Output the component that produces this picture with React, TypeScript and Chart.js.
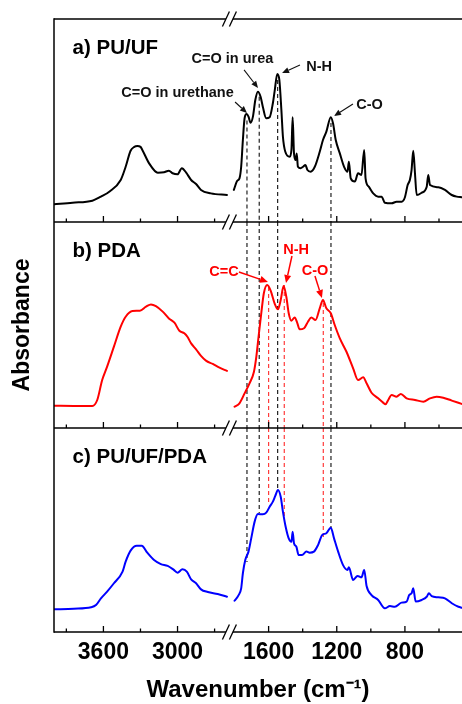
import React, { useEffect, useRef } from 'react';
import { Chart, registerables, LinearScale } from 'chart.js';

// ---------------- data ----------------
// broken wavenumber axis: two ranges (high -> low) and their relative stretch
const X_SEGMENTS = [
  { max: 4000, min: 2580, stretch: 0.725 },
  { max: 1830, min: 465, stretch: 1 },
];
const X_TICKS = [3900, 3600, 3300, 3000, 2700, 1600, 1400, 1200, 1000, 800, 600];
const X_LABELED = [3600, 3000, 1600, 1200, 800];

const PANEL_AXES = ['ya', 'yb', 'yc'];
const PANEL_LABELS = ['a) PU/UF', 'b) PDA', 'c) PU/UF/PDA'];
const PANEL_LABEL_AT = [3850, 0.83];
const SERIES_COLORS = ['#000000', '#ff0000', '#0000ff'];

// a) PU/UF  [wavenumber, absorbance (a.u.)]
const PUUF_HIGH = [
  [4000, 0.088], [3850, 0.095], [3690, 0.105], [3620, 0.125], [3550, 0.15], [3460, 0.207],
  [3420, 0.272], [3380, 0.351], [3350, 0.37], [3325, 0.374], [3300, 0.37], [3285, 0.355],
  [3230, 0.289], [3160, 0.243], [3110, 0.245], [3070, 0.253], [3040, 0.24], [3000, 0.235],
  [2965, 0.265], [2930, 0.243], [2890, 0.207], [2850, 0.187], [2810, 0.158], [2730, 0.141],
  [2600, 0.133],
];
const PUUF_LOW = [
  [1804, 0.158], [1784, 0.203], [1771, 0.215], [1761, 0.272], [1751, 0.404], [1741, 0.511],
  [1729, 0.532], [1718, 0.519], [1706, 0.489], [1692, 0.519], [1678, 0.601], [1663, 0.642],
  [1647, 0.617], [1634, 0.568], [1614, 0.511], [1594, 0.516], [1575, 0.585], [1565, 0.642],
  [1549, 0.729], [1537, 0.7], [1525, 0.552], [1516, 0.42], [1502, 0.346], [1476, 0.322],
  [1466, 0.355], [1459, 0.516], [1451, 0.338], [1441, 0.305], [1435, 0.338], [1428, 0.272],
  [1412, 0.265], [1398, 0.272], [1384, 0.281], [1372, 0.256], [1353, 0.248], [1329, 0.272],
  [1300, 0.346], [1281, 0.404], [1261, 0.445], [1235, 0.516], [1222, 0.486], [1206, 0.404],
  [1182, 0.338], [1157, 0.272], [1137, 0.248], [1129, 0.297], [1118, 0.215], [1094, 0.199],
  [1075, 0.24], [1055, 0.232], [1039, 0.355], [1031, 0.215], [1012, 0.174], [986, 0.141],
  [957, 0.125], [937, 0.125], [918, 0.095], [878, 0.092], [849, 0.1], [819, 0.1],
  [800, 0.122], [784, 0.182], [771, 0.207], [761, 0.256], [751, 0.351], [741, 0.24],
  [731, 0.133], [702, 0.144], [672, 0.174], [663, 0.232], [653, 0.182], [604, 0.171],
  [565, 0.158], [525, 0.133], [496, 0.125], [467, 0.122],
];

// b) PDA
const PDA_HIGH = [
  [4000, 0.108], [3840, 0.107], [3690, 0.107], [3650, 0.136], [3610, 0.233], [3570, 0.298],
  [3515, 0.395], [3460, 0.492], [3420, 0.54], [3365, 0.568], [3305, 0.569], [3255, 0.589],
  [3215, 0.6], [3175, 0.592], [3120, 0.565], [3070, 0.532], [3025, 0.511], [2985, 0.472],
  [2945, 0.46], [2920, 0.443], [2890, 0.411], [2850, 0.382], [2810, 0.35], [2770, 0.327],
  [2715, 0.311], [2660, 0.293], [2600, 0.277],
];
const PDA_LOW = [
  [1800, 0.103], [1771, 0.12], [1741, 0.168], [1712, 0.217], [1686, 0.273], [1672, 0.346],
  [1659, 0.443], [1643, 0.557], [1628, 0.654], [1608, 0.694], [1588, 0.667], [1565, 0.605],
  [1545, 0.576], [1529, 0.621], [1512, 0.689], [1496, 0.637], [1482, 0.557], [1466, 0.521],
  [1447, 0.537], [1431, 0.508], [1418, 0.479], [1392, 0.484], [1369, 0.516], [1349, 0.537],
  [1325, 0.524], [1300, 0.581], [1281, 0.621], [1261, 0.581], [1235, 0.557], [1212, 0.5],
  [1182, 0.435], [1143, 0.37], [1104, 0.29], [1075, 0.233], [1045, 0.246], [1025, 0.217],
  [996, 0.171], [957, 0.144], [928, 0.123], [914, 0.115], [898, 0.136], [878, 0.16],
  [849, 0.152], [824, 0.165], [790, 0.144], [741, 0.136], [692, 0.128], [653, 0.144],
  [614, 0.152], [575, 0.147], [525, 0.133], [467, 0.117],
];

// c) PU/UF/PDA
const MIX_HIGH = [
  [4000, 0.111], [3840, 0.114], [3700, 0.121], [3660, 0.132], [3620, 0.165], [3570, 0.198],
  [3515, 0.239], [3445, 0.296], [3420, 0.345], [3380, 0.399], [3330, 0.423], [3290, 0.423],
  [3245, 0.389], [3190, 0.353], [3135, 0.333], [3080, 0.324], [3035, 0.307], [3000, 0.291],
  [2960, 0.307], [2925, 0.296], [2890, 0.258], [2850, 0.239], [2810, 0.209], [2755, 0.196],
  [2675, 0.186], [2600, 0.173],
];
const MIX_LOW = [
  [1800, 0.153], [1776, 0.181], [1761, 0.214], [1751, 0.288], [1737, 0.353], [1718, 0.394],
  [1702, 0.459], [1682, 0.541], [1663, 0.578], [1634, 0.577], [1614, 0.585], [1594, 0.614],
  [1575, 0.639], [1561, 0.667], [1545, 0.696], [1529, 0.663], [1516, 0.59], [1500, 0.516],
  [1482, 0.459], [1466, 0.442], [1459, 0.492], [1451, 0.435], [1437, 0.418], [1424, 0.377],
  [1404, 0.377], [1378, 0.394], [1359, 0.389], [1334, 0.394], [1310, 0.426], [1286, 0.475],
  [1261, 0.484], [1235, 0.511], [1216, 0.459], [1192, 0.394], [1163, 0.328], [1137, 0.304],
  [1129, 0.317], [1104, 0.255], [1078, 0.275], [1055, 0.268], [1039, 0.304], [1025, 0.225],
  [996, 0.181], [957, 0.157], [918, 0.116], [888, 0.127], [859, 0.124], [820, 0.144],
  [790, 0.149], [775, 0.181], [761, 0.19], [751, 0.214], [737, 0.149], [702, 0.157],
  [672, 0.173], [659, 0.19], [643, 0.176], [604, 0.17], [565, 0.165], [525, 0.141],
  [486, 0.124], [465, 0.119],
];

// marker lines (wavenumbers) and where they start / end in each panel
const BLACK_MARKS = [1727, 1655, 1547, 1234];
const BLACK_START_A = [0.5, 0.617, 0.7, 0.488];
const BLACK_END_C = [0.343, 0.583, 0.696, 0.51];
const RED_MARKS = [1600, 1508, 1279];
const RED_START_B = [0.684, 0.694, 0.607];
const RED_END_C = [0.632, 0.564, 0.466];

// peak annotations: text, panel, text anchor, arrow tail, arrow head (data coords)
const NOTE_TEXT = ['C=O in urethane', 'C=O in urea', 'N-H', 'C-O', 'C=C', 'N-H', 'C-O'];
const NOTE_PANEL = [0, 0, 0, 0, 1, 1, 1];
const NOTE_AT = [[3000, 0.616], [1812, 0.783], [1304, 0.745], [1008, 0.557], [2624, 0.738], [1439, 0.845], [1328, 0.743]];
const NOTE_FROM = [[1797, 0.591], [1744, 0.749], [1416, 0.773], [1105, 0.581], [1774, 0.757], [1463, 0.835], [1328, 0.738]];
const NOTE_TO = [[1727, 0.537], [1662, 0.66], [1521, 0.734], [1216, 0.522], [1604, 0.709], [1498, 0.704], [1287, 0.631]];

// ---------------- scale ----------------
const FONT = '"Liberation Sans", Arial, Helvetica, sans-serif';

class BrokenLinearScale extends LinearScale {
  static id = 'brokenLinear';
  static defaults = LinearScale.defaults;

  _total() {
    return X_SEGMENTS.reduce((t, s) => t + (s.max - s.min) * s.stretch, 0);
  }
  getPixelForValue(value: any) {
    if (value === null || value === undefined || isNaN(value)) return NaN;
    const total = this._total();
    let acc = 0;
    for (let i = 0; i < X_SEGMENTS.length; i++) {
      const s = X_SEGMENTS[i];
      if (value >= s.min || i === X_SEGMENTS.length - 1) {
        const v = Math.min(Math.max(value, s.min), s.max);
        return this.left + ((acc + (s.max - v) * s.stretch) / total) * this.width;
      }
      acc += (s.max - s.min) * s.stretch;
    }
    return NaN;
  }
  getValueForPixel(pixel: number) {
    const total = this._total();
    let pos = ((pixel - this.left) / this.width) * total;
    for (const s of X_SEGMENTS) {
      const len = (s.max - s.min) * s.stretch;
      if (pos <= len) return s.max - pos / s.stretch;
      pos -= len;
    }
    return X_SEGMENTS[X_SEGMENTS.length - 1].min;
  }
}

Chart.register(...registerables, BrokenLinearScale);

// ---------------- datasets ----------------
const curve = (pts: number[][], color: string, axis: string) => ({
  type: 'line',
  data: pts.map(([x, y]) => ({ x, y })),
  borderColor: color,
  borderWidth: 2,
  pointRadius: 0,
  fill: false,
  yAxisID: axis,
  cubicInterpolationMode: 'monotone',
  borderJoinStyle: 'round',
  borderCapStyle: 'round',
});

const dashLine = (w: number, from: number, to: number, axis: string, color: string) => ({
  type: 'line',
  data: [{ x: w, y: from }, { x: w, y: to }],
  borderColor: color,
  borderWidth: 1.2,
  borderDash: [4, 3],
  pointRadius: 0,
  fill: false,
  tension: 0,
  yAxisID: axis,
});

const BLACK_DASH = '#222222';
const RED_DASH = '#ff3b3b';

function buildDatasets() {
  const ds: any[] = [
    curve(PUUF_HIGH, SERIES_COLORS[0], 'ya'),
    curve(PUUF_LOW, SERIES_COLORS[0], 'ya'),
    curve(PDA_HIGH, SERIES_COLORS[1], 'yb'),
    curve(PDA_LOW, SERIES_COLORS[1], 'yb'),
    curve(MIX_HIGH, SERIES_COLORS[2], 'yc'),
    curve(MIX_LOW, SERIES_COLORS[2], 'yc'),
  ];
  BLACK_MARKS.forEach((w, i) => {
    ds.push(dashLine(w, BLACK_START_A[i], 0, 'ya', BLACK_DASH));
    ds.push(dashLine(w, 1, 0, 'yb', BLACK_DASH));
    ds.push(dashLine(w, 1, BLACK_END_C[i], 'yc', BLACK_DASH));
  });
  RED_MARKS.forEach((w, i) => {
    ds.push(dashLine(w, RED_START_B[i], 0, 'yb', RED_DASH));
    ds.push(dashLine(w, 1, RED_END_C[i], 'yc', RED_DASH));
  });
  return ds;
}

// ---------------- plugin: frame, breaks, ticks, labels, arrows ----------------
const framePlugin = {
  id: 'frameAndNotes',
  afterDraw(chart: any) {
    const { ctx, chartArea } = chart;
    const xs = chart.scales.x;
    const panels = PANEL_AXES.map((id) => chart.scales[id]);
    const bx = xs.getPixelForValue(X_SEGMENTS[0].min);
    const seg = (x1: number, y1: number, x2: number, y2: number) => {
      ctx.beginPath();
      ctx.moveTo(x1, y1);
      ctx.lineTo(x2, y2);
      ctx.stroke();
    };
    ctx.save();
    ctx.strokeStyle = '#000';
    ctx.lineWidth = 1.5;
    seg(chartArea.left, chartArea.top - 0.75, chartArea.left, chartArea.bottom + 0.75);
    const rows = [panels[0].top, ...panels.map((p: any) => p.bottom)];
    rows.forEach((y: number, r: number) => {
      ctx.lineWidth = 1.5;
      seg(chartArea.left, y, bx - 3.5, y);
      seg(bx + 3.5, y, chartArea.right, y);
      ctx.lineWidth = 1.3;
      seg(bx - 7, y + 7.5, bx, y - 7.5);
      seg(bx, y + 7.5, bx + 7, y - 7.5);
      if (r > 0) {
        ctx.lineWidth = 1.3;
        xs.ticks.forEach((t: any) => {
          const px = xs.getPixelForValue(t.value);
          seg(px, y, px, y - (t.major ? 6 : 3.5));
        });
      }
    });

    // panel labels
    ctx.fillStyle = '#000';
    ctx.textAlign = 'left';
    ctx.textBaseline = 'alphabetic';
    ctx.font = `bold 20.5px ${FONT}`;
    PANEL_LABELS.forEach((label, i) => {
      ctx.fillText(label, xs.getPixelForValue(PANEL_LABEL_AT[0]), panels[i].getPixelForValue(PANEL_LABEL_AT[1]));
    });

    // annotations
    ctx.font = `bold 14.5px ${FONT}`;
    ctx.textAlign = 'center';
    NOTE_TEXT.forEach((text, i) => {
      const p = panels[NOTE_PANEL[i]];
      const color = NOTE_PANEL[i] === 0 ? '#111' : '#ff0000';
      ctx.fillStyle = color;
      ctx.strokeStyle = color;
      ctx.fillText(text, xs.getPixelForValue(NOTE_AT[i][0]), p.getPixelForValue(NOTE_AT[i][1]));
      const x1 = xs.getPixelForValue(NOTE_FROM[i][0]);
      const y1 = p.getPixelForValue(NOTE_FROM[i][1]);
      const x2 = xs.getPixelForValue(NOTE_TO[i][0]);
      const y2 = p.getPixelForValue(NOTE_TO[i][1]);
      const ang = Math.atan2(y2 - y1, x2 - x1);
      const head = NOTE_PANEL[i] === 0 ? 7 : 8;
      const hw = NOTE_PANEL[i] === 0 ? 3 : 3.5;
      const hx = x2 - head * Math.cos(ang);
      const hy = y2 - head * Math.sin(ang);
      ctx.lineWidth = NOTE_PANEL[i] === 0 ? 1.1 : 1.5;
      seg(x1, y1, hx, hy);
      ctx.beginPath();
      ctx.moveTo(x2, y2);
      ctx.lineTo(hx + hw * Math.sin(ang), hy - hw * Math.cos(ang));
      ctx.lineTo(hx - hw * Math.sin(ang), hy + hw * Math.cos(ang));
      ctx.closePath();
      ctx.fill();
    });
    ctx.restore();
  },
};

const yAxis = (weight: number, stackWeight: number, title?: string) => ({
  type: 'linear',
  position: 'left',
  stack: 'panels',
  stackWeight,
  weight,
  min: 0,
  max: 1,
  grid: { display: false, drawTicks: false },
  border: { display: false },
  ticks: { display: false },
  afterFit: (s: any) => {
    s.width = 54;
  },
  title: title
    ? {
        display: true,
        text: title,
        color: '#000',
        font: { family: FONT, size: 23, weight: 'bold' },
        padding: { top: 9, bottom: 0 },
      }
    : { display: false },
});

export default function App() {
  const ref = useRef<HTMLCanvasElement>(null);
  useEffect(() => {
    if (!ref.current) return;
    const chart = new Chart(ref.current, {
      type: 'line',
      data: { datasets: buildDatasets() },
      options: {
        animation: false,
        responsive: false,
        maintainAspectRatio: false,
        devicePixelRatio: 1,
        events: [],
        layout: { padding: { top: 19, left: 0, right: 0, bottom: 0 } },
        plugins: { legend: { display: false }, tooltip: { enabled: false }, title: { display: false } },
        scales: {
          x: {
            type: 'brokenLinear',
            position: 'bottom',
            min: 465,
            max: 4000,
            afterBuildTicks: (s: any) => {
              s.ticks = X_TICKS.map((v) => ({ value: v, major: X_LABELED.includes(v) }));
            },
            afterFit: (s: any) => {
              s.height = 72;
            },
            grid: { display: false, drawTicks: false },
            border: { display: false },
            ticks: {
              autoSkip: false,
              maxRotation: 0,
              minRotation: 0,
              padding: 7,
              color: '#000',
              font: { family: FONT, size: 23, weight: 'bold' },
              callback: (v: any) => (X_LABELED.includes(Number(v)) ? String(v) : ''),
            },
            title: {
              display: true,
              text: 'Wavenumber (cm\u207B\u00B9)',
              color: '#000',
              font: { family: FONT, size: 24, weight: 'bold' },
              padding: { top: 0, bottom: -1 },
            },
          },
          ya: yAxis(3, 203),
          yb: yAxis(2, 206, 'Absorbance'),
          yc: yAxis(1, 204),
        },
      } as any,
      plugins: [framePlugin],
    } as any);
    return () => chart.destroy();
  }, []);
  return (
    <div style={{ position: 'absolute', left: 0, top: 0, width: 462, height: 704, background: '#fff' }}>
      <canvas ref={ref} width={462} height={704} style={{ display: 'block', width: 462, height: 704 }} />
    </div>
  );
}
